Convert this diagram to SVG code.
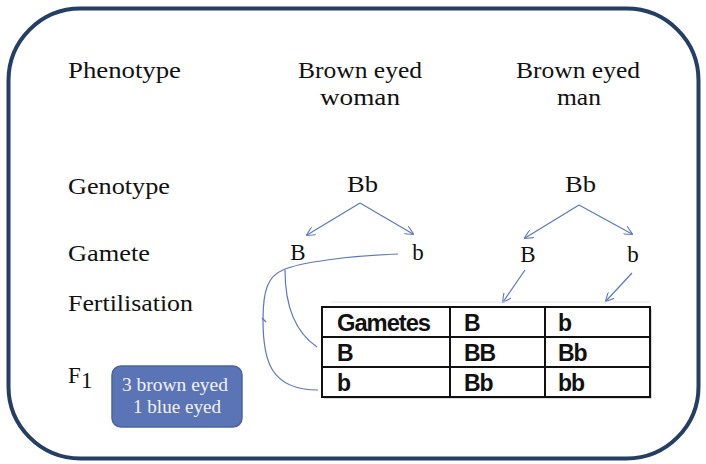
<svg xmlns="http://www.w3.org/2000/svg" width="706" height="464" viewBox="0 0 706 464">
<defs>
<marker id="ah" viewBox="0 0 10 10" refX="9" refY="5" markerWidth="9" markerHeight="9" markerUnits="userSpaceOnUse" orient="auto">
<path d="M0,0 L10,5 L0,10" fill="none" stroke="#5b77c0" stroke-width="1.2"/>
</marker>
<style>
.lbl{font-family:"Liberation Serif","DejaVu Serif",serif;font-size:23px;fill:#111}
.tb{font-family:"Liberation Sans",Arial,sans-serif;font-size:23px;font-weight:bold;fill:#111;letter-spacing:-1px}
.con{fill:none;stroke:#5b77c0;stroke-width:1.2}
.grid{fill:none;stroke:#111;stroke-width:2}
.res{font-family:"Liberation Serif","DejaVu Serif",serif;font-size:18px;fill:#f2f2f2}
</style>
</defs>
<rect x="0" y="0" width="706" height="464" fill="#fff"/>
<rect x="8.5" y="8.5" width="690" height="450" rx="72" ry="72" fill="#fff" stroke="#243f63" stroke-width="4"/>

<g id="labels">
<text class="lbl" x="68" y="78" textLength="113" lengthAdjust="spacingAndGlyphs">Phenotype</text>
<text class="lbl" x="68" y="194" textLength="102" lengthAdjust="spacingAndGlyphs">Genotype</text>
<text class="lbl" x="68" y="261" textLength="82" lengthAdjust="spacingAndGlyphs">Gamete</text>
<text class="lbl" x="68" y="311" textLength="125" lengthAdjust="spacingAndGlyphs">Fertilisation</text>
<text class="lbl" x="68" y="383">F</text>
<text class="lbl" x="81" y="388" font-size="15">1</text>
</g>
<g id="woman">
<text class="lbl" x="298" y="78" textLength="124" lengthAdjust="spacingAndGlyphs">Brown eyed</text>
<text class="lbl" x="320" y="105" textLength="80" lengthAdjust="spacingAndGlyphs">woman</text>
<text class="lbl" x="347" y="192" textLength="31" lengthAdjust="spacingAndGlyphs">Bb</text>
</g>
<g id="man">
<text class="lbl" x="516" y="78" textLength="124" lengthAdjust="spacingAndGlyphs">Brown eyed</text>
<text class="lbl" x="557" y="105" textLength="44" lengthAdjust="spacingAndGlyphs">man</text>
<text class="lbl" x="565" y="192" textLength="31" lengthAdjust="spacingAndGlyphs">Bb</text>
</g>
<g id="gametes">
<text class="lbl" x="298" y="260" text-anchor="middle">B</text>
<text class="lbl" x="418" y="260" text-anchor="middle">b</text>
<text class="lbl" x="528" y="262" text-anchor="middle">B</text>
<text class="lbl" x="633" y="262" text-anchor="middle">b</text>
</g>

<g id="connectors">
<line class="con" x1="360" y1="203" x2="307" y2="235" marker-end="url(#ah)"/>
<line class="con" x1="360" y1="203" x2="413" y2="234" marker-end="url(#ah)"/>
<line class="con" x1="579" y1="205" x2="525" y2="238" marker-end="url(#ah)"/>
<line class="con" x1="579" y1="205" x2="632" y2="234" marker-end="url(#ah)"/>
<line class="con" x1="525" y1="270" x2="503" y2="302" marker-end="url(#ah)"/>
<line class="con" x1="632" y1="273" x2="606" y2="301" marker-end="url(#ah)"/>
<path class="con" d="M398,254 C350,256 300,262 283,270 C268,276 263,290 263,320 C263,360 270,390 318,390"/>
<path class="con" d="M285,270 C285,300 292,330 317,347"/>
<path class="con" d="M262,318 L266,322"/>
</g>

<g id="table">
<line x1="330" y1="302" x2="650" y2="302" stroke="#dfe3ec" stroke-width="1"/>
<rect x="324" y="309" width="328" height="90" fill="#d8d8d8"/>
<rect x="322" y="307" width="328" height="90" fill="#fff"/>
<rect class="grid" x="322" y="307" width="328" height="90"/>
<line class="grid" x1="322" y1="337" x2="650" y2="337"/>
<line class="grid" x1="322" y1="367" x2="650" y2="367"/>
<line class="grid" x1="450" y1="307" x2="450" y2="397"/>
<line class="grid" x1="545" y1="307" x2="545" y2="397"/>
<text class="tb" x="337" y="331" textLength="93" lengthAdjust="spacingAndGlyphs">Gametes</text>
<text class="tb" x="464" y="331">B</text>
<text class="tb" x="558" y="331">b</text>
<text class="tb" x="337" y="361">B</text>
<text class="tb" x="464" y="361">BB</text>
<text class="tb" x="558" y="361">Bb</text>
<text class="tb" x="337" y="391">b</text>
<text class="tb" x="464" y="391">Bb</text>
<text class="tb" x="558" y="391">bb</text>
</g>

<g id="result">
<rect x="112" y="366" width="130" height="61" rx="9" ry="9" fill="#5a74b6" stroke="#4a64a3" stroke-width="1.5"/>
<text class="res" x="122" y="391" textLength="106" lengthAdjust="spacingAndGlyphs">3 brown eyed</text>
<text class="res" x="133" y="413" textLength="88" lengthAdjust="spacingAndGlyphs">1 blue eyed</text>
</g>
</svg>
